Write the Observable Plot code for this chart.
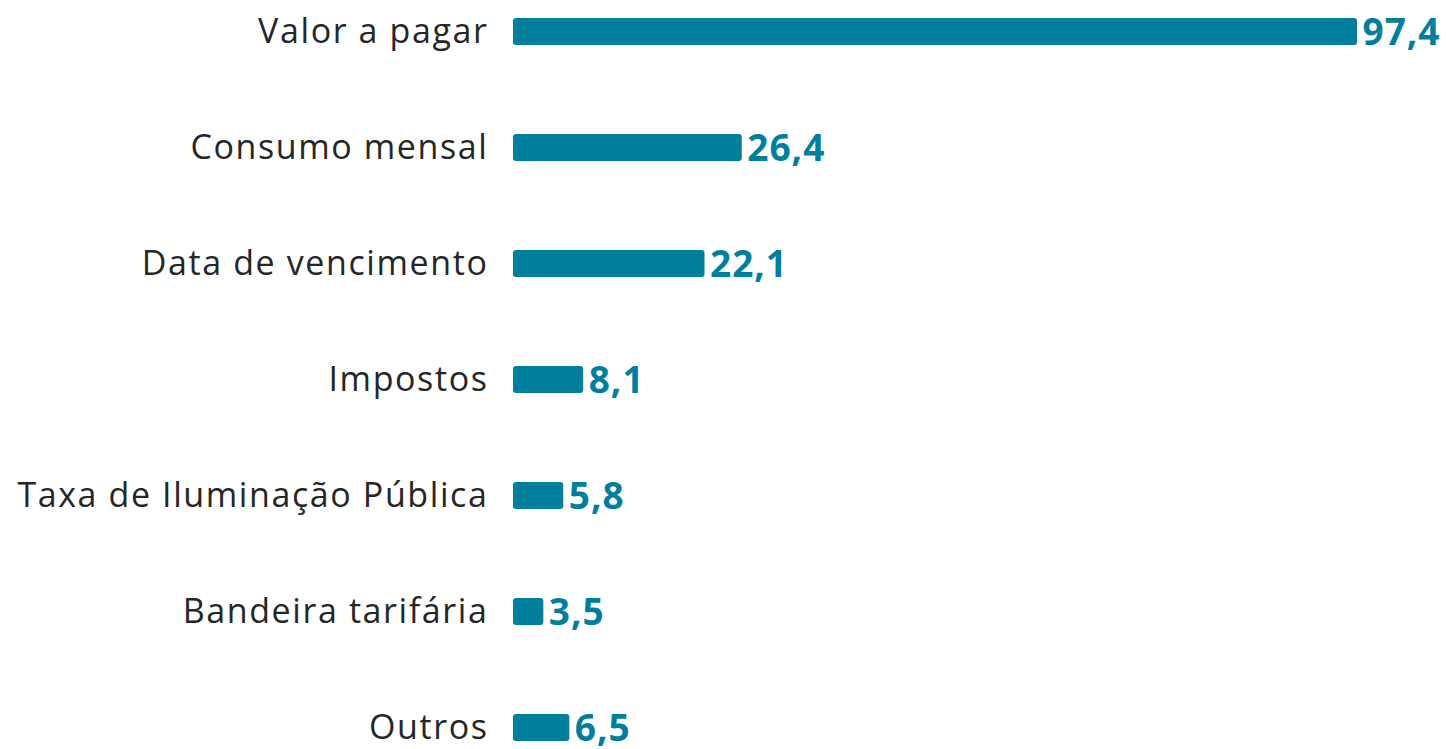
<!DOCTYPE html>
<html>
<head>
<meta charset="utf-8">
<script src="https://cdn.jsdelivr.net/npm/d3@7"></script>
<script src="https://cdn.jsdelivr.net/npm/@observablehq/plot@0.6"></script>
<style>
  html, body { margin: 0; padding: 0; background: #fff; }
  #chart svg { display: block; }
  .ylab text { letter-spacing: 1.6px; }
  .vals text { letter-spacing: 1px; }
</style>
</head>
<body>
<div id="chart"></div>
<script>
const categories = ["Valor a pagar", "Consumo mensal", "Data de vencimento", "Impostos", "Taxa de Iluminação Pública", "Bandeira tarifária", "Outros"];
const values = [97.4, 26.4, 22.1, 8.1, 5.8, 3.5, 6.5];

const data = categories.map((c, i) => ({category: c, value: values[i]}));
const fmt = v => v.toFixed(1).replace(".", ",");
const color = "#007f9c";

const chart = Plot.plot({
  width: 1446,
  height: 749,
  marginLeft: 513,
  marginRight: 89,
  marginTop: 0,
  marginBottom: 0,
  style: {background: "#fff"},
  x: {domain: [0, 97.4], axis: null},
  y: {domain: categories, range: [-27.65, 786.45], paddingInner: 0.768, paddingOuter: 0.384, label: null},
  marks: [
    Plot.axisY({tickSize: 0, tickPadding: 25, fontSize: 34, fill: "#262626", fontFamily: "Open Sans", label: null, className: "ylab"}),
    Plot.barX(data, {x: "value", y: "category", fill: color, rx: 3}),
    Plot.text(data, {x: "value", y: "category", text: d => fmt(d.value), textAnchor: "start", dx: 5, dy: 1, fill: color, fontSize: 37, fontWeight: "bold", fontFamily: "Open Sans", className: "vals"})
  ]
});
document.getElementById("chart").appendChild(chart);
</script>
</body>
</html>
